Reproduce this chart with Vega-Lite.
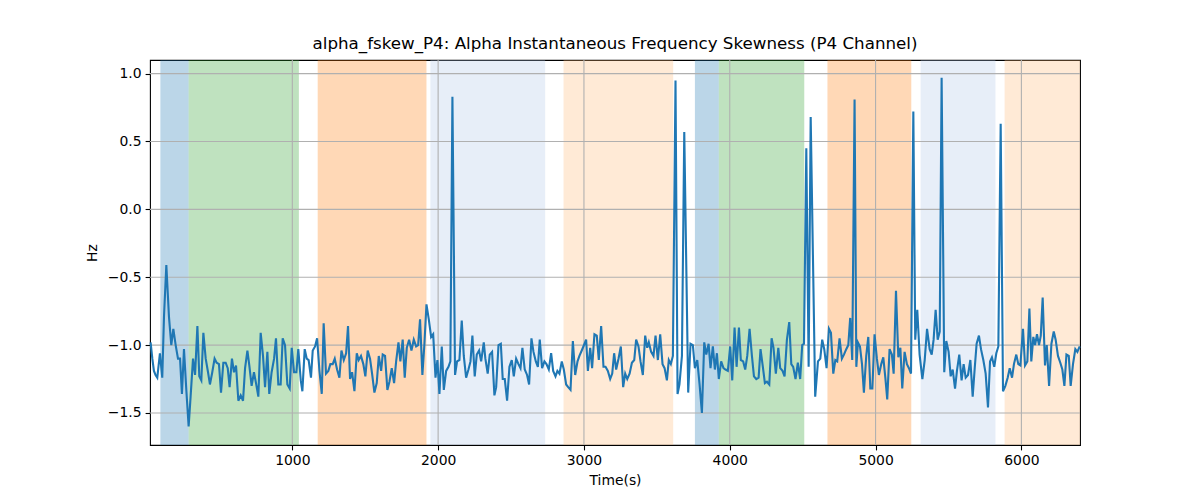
{
  "$schema": "https://vega.github.io/schema/vega-lite/v6.json",
  "width": 930,
  "height": 385,
  "autosize": {"type": "none"},
  "padding": {"left": 150, "top": 60, "right": 120, "bottom": 55},
  "background": "white",
  "title": {
    "text": "alpha_fskew_P4: Alpha Instantaneous Frequency Skewness (P4 Channel)",
    "font": "DejaVu Sans",
    "fontSize": 16.7,
    "fontWeight": "normal",
    "color": "black",
    "anchor": "middle",
    "frame": "group",
    "offset": 7
  },
  "config": {
    "view": {"stroke": "black", "strokeWidth": 1.1},
    "axis": {
      "labelFont": "DejaVu Sans",
      "labelFontSize": 13.9,
      "labelColor": "black",
      "tickColor": "black",
      "tickSize": 4.9,
      "tickWidth": 1.1,
      "labelPadding": 4,
      "domain": false,
      "grid": false,
      "titleFont": "DejaVu Sans",
      "titleFontSize": 13.9,
      "titleFontWeight": "normal",
      "titleColor": "black"
    }
  },
  "datasets": {
    "bands": [
      {"start": 95, "end": 289, "cls": "A"},
      {"start": 289, "end": 1045, "cls": "B"},
      {"start": 1174, "end": 1920, "cls": "C"},
      {"start": 1947, "end": 2734, "cls": "D"},
      {"start": 2860, "end": 3612, "cls": "E"},
      {"start": 3761, "end": 3925, "cls": "A"},
      {"start": 3925, "end": 4511, "cls": "B"},
      {"start": 4670, "end": 5245, "cls": "C"},
      {"start": 5309, "end": 5822, "cls": "D"},
      {"start": 5885, "end": 6402, "cls": "E"}
    ],
    "xgrid": [{"g": 1000}, {"g": 2000}, {"g": 3000}, {"g": 4000}, {"g": 5000}, {"g": 6000}],
    "ygrid": [{"g": -1.5}, {"g": -1.0}, {"g": -0.5}, {"g": 0.0}, {"g": 0.5}, {"g": 1.0}],
    "series": [
      {"t": 28, "v": -0.98}, {"t": 40, "v": -1.10}, {"t": 51, "v": -1.19}, {"t": 62, "v": -1.22}, {"t": 74, "v": -1.24},
      {"t": 92, "v": -1.06}, {"t": 108, "v": -1.24}, {"t": 120, "v": -0.79}, {"t": 136, "v": -0.41}, {"t": 154, "v": -0.79},
      {"t": 170, "v": -1.0}, {"t": 184, "v": -0.88}, {"t": 200, "v": -1.0}, {"t": 216, "v": -1.1}, {"t": 230, "v": -1.1},
      {"t": 243, "v": -1.36}, {"t": 257, "v": -1.03}, {"t": 273, "v": -1.33}, {"t": 289, "v": -1.6}, {"t": 303, "v": -1.37},
      {"t": 319, "v": -1.1}, {"t": 333, "v": -1.22}, {"t": 349, "v": -0.86}, {"t": 362, "v": -1.23}, {"t": 376, "v": -1.26},
      {"t": 390, "v": -0.91}, {"t": 406, "v": -1.1}, {"t": 422, "v": -1.2}, {"t": 435, "v": -1.29}, {"t": 451, "v": -1.2},
      {"t": 467, "v": -1.1}, {"t": 481, "v": -1.13}, {"t": 497, "v": -1.14}, {"t": 511, "v": -1.35}, {"t": 527, "v": -1.13},
      {"t": 543, "v": -1.13}, {"t": 557, "v": -1.17}, {"t": 570, "v": -1.31}, {"t": 586, "v": -1.1}, {"t": 600, "v": -1.2},
      {"t": 614, "v": -1.15}, {"t": 630, "v": -1.41}, {"t": 646, "v": -1.37}, {"t": 662, "v": -1.41}, {"t": 676, "v": -1.17},
      {"t": 692, "v": -1.04}, {"t": 705, "v": -1.15}, {"t": 721, "v": -1.3}, {"t": 737, "v": -1.2}, {"t": 751, "v": -1.28},
      {"t": 767, "v": -1.38}, {"t": 783, "v": -0.91}, {"t": 799, "v": -1.08}, {"t": 813, "v": -1.31}, {"t": 829, "v": -1.05},
      {"t": 842, "v": -1.36}, {"t": 858, "v": -1.2}, {"t": 875, "v": -1.1}, {"t": 888, "v": -0.95}, {"t": 904, "v": -1.29},
      {"t": 920, "v": -1.29}, {"t": 934, "v": -0.95}, {"t": 950, "v": -1.0}, {"t": 966, "v": -1.29}, {"t": 982, "v": -1.32},
      {"t": 996, "v": -1.02}, {"t": 1012, "v": -1.2}, {"t": 1028, "v": -1.2}, {"t": 1041, "v": -1.03}, {"t": 1058, "v": -1.26},
      {"t": 1069, "v": -1.34}, {"t": 1085, "v": -1.03}, {"t": 1099, "v": -1.1}, {"t": 1112, "v": -1.11}, {"t": 1128, "v": -1.24},
      {"t": 1140, "v": -1.04}, {"t": 1156, "v": -1.01}, {"t": 1170, "v": -0.95}, {"t": 1186, "v": -1.19}, {"t": 1202, "v": -1.36},
      {"t": 1215, "v": -0.84}, {"t": 1231, "v": -1.21}, {"t": 1247, "v": -1.19}, {"t": 1261, "v": -1.14}, {"t": 1277, "v": -1.14},
      {"t": 1291, "v": -1.10}, {"t": 1307, "v": -1.18}, {"t": 1323, "v": -1.24}, {"t": 1337, "v": -1.04}, {"t": 1353, "v": -1.11},
      {"t": 1369, "v": -1.06}, {"t": 1382, "v": -0.86}, {"t": 1396, "v": -1.25}, {"t": 1410, "v": -1.20}, {"t": 1426, "v": -1.34},
      {"t": 1442, "v": -1.06}, {"t": 1455, "v": -1.11}, {"t": 1471, "v": -1.08}, {"t": 1487, "v": -1.14}, {"t": 1501, "v": -1.23},
      {"t": 1517, "v": -1.04}, {"t": 1533, "v": -1.10}, {"t": 1547, "v": -1.21}, {"t": 1563, "v": -1.35}, {"t": 1579, "v": -1.28},
      {"t": 1593, "v": -1.08}, {"t": 1609, "v": -1.19}, {"t": 1620, "v": -1.07}, {"t": 1636, "v": -1.08}, {"t": 1652, "v": -1.33},
      {"t": 1666, "v": -1.27}, {"t": 1682, "v": -1.17}, {"t": 1698, "v": -1.28}, {"t": 1712, "v": -1.12}, {"t": 1728, "v": -0.98},
      {"t": 1741, "v": -1.12}, {"t": 1757, "v": -0.96}, {"t": 1771, "v": -1.24}, {"t": 1785, "v": -1.02}, {"t": 1801, "v": -0.96},
      {"t": 1817, "v": -1.04}, {"t": 1833, "v": -0.96}, {"t": 1849, "v": -1.01}, {"t": 1863, "v": -1.0}, {"t": 1876, "v": -0.81},
      {"t": 1892, "v": -1.22}, {"t": 1906, "v": -0.99}, {"t": 1920, "v": -0.70}, {"t": 1936, "v": -0.81}, {"t": 1952, "v": -0.94},
      {"t": 1966, "v": -0.92}, {"t": 1982, "v": -1.24}, {"t": 1995, "v": -1.11}, {"t": 2009, "v": -1.36}, {"t": 2025, "v": -1.01},
      {"t": 2039, "v": -1.33}, {"t": 2055, "v": -1.19}, {"t": 2071, "v": -1.16}, {"t": 2084, "v": -1.12}, {"t": 2098, "v": 0.83},
      {"t": 2116, "v": -1.22}, {"t": 2130, "v": -1.12}, {"t": 2146, "v": -1.11}, {"t": 2162, "v": -0.82}, {"t": 2176, "v": -1.08},
      {"t": 2192, "v": -1.24}, {"t": 2208, "v": -1.18}, {"t": 2222, "v": -1.12}, {"t": 2235, "v": -0.93}, {"t": 2251, "v": -1.23},
      {"t": 2265, "v": -1.07}, {"t": 2281, "v": -1.04}, {"t": 2295, "v": -1.12}, {"t": 2313, "v": -0.98}, {"t": 2324, "v": -1.10},
      {"t": 2340, "v": -1.21}, {"t": 2354, "v": -1.07}, {"t": 2370, "v": -1.05}, {"t": 2386, "v": -1.37}, {"t": 2398, "v": -1.31},
      {"t": 2414, "v": -1.0}, {"t": 2430, "v": -0.99}, {"t": 2443, "v": -1.25}, {"t": 2457, "v": -1.25}, {"t": 2473, "v": -1.41},
      {"t": 2489, "v": -1.16}, {"t": 2505, "v": -1.11}, {"t": 2519, "v": -1.23}, {"t": 2535, "v": -1.10}, {"t": 2551, "v": -1.14},
      {"t": 2565, "v": -1.17}, {"t": 2578, "v": -1.02}, {"t": 2594, "v": -1.18}, {"t": 2610, "v": -1.22}, {"t": 2624, "v": -1.29},
      {"t": 2640, "v": -0.95}, {"t": 2654, "v": -1.05}, {"t": 2670, "v": -1.12}, {"t": 2684, "v": -1.16}, {"t": 2697, "v": -0.96},
      {"t": 2713, "v": -1.17}, {"t": 2729, "v": -1.12}, {"t": 2743, "v": -1.14}, {"t": 2759, "v": -1.18}, {"t": 2775, "v": -1.06},
      {"t": 2789, "v": -1.19}, {"t": 2805, "v": -1.23}, {"t": 2818, "v": -1.19}, {"t": 2832, "v": -1.21}, {"t": 2848, "v": -1.12},
      {"t": 2862, "v": -1.18}, {"t": 2878, "v": -1.29}, {"t": 2892, "v": -1.31}, {"t": 2908, "v": -1.33}, {"t": 2924, "v": -0.97},
      {"t": 2940, "v": -1.22}, {"t": 2956, "v": -1.12}, {"t": 2969, "v": -1.08}, {"t": 2985, "v": -1.04}, {"t": 3004, "v": -0.99},
      {"t": 3015, "v": -0.96}, {"t": 3027, "v": -1.19}, {"t": 3043, "v": -1.02}, {"t": 3056, "v": -1.17}, {"t": 3072, "v": -0.92},
      {"t": 3088, "v": -0.93}, {"t": 3102, "v": -1.11}, {"t": 3118, "v": -0.86}, {"t": 3134, "v": -1.16}, {"t": 3148, "v": -1.16},
      {"t": 3164, "v": -1.19}, {"t": 3180, "v": -1.25}, {"t": 3194, "v": -1.21}, {"t": 3207, "v": -1.06}, {"t": 3221, "v": -1.18},
      {"t": 3237, "v": -1.10}, {"t": 3253, "v": -1.01}, {"t": 3269, "v": -1.31}, {"t": 3283, "v": -1.21}, {"t": 3297, "v": -1.25},
      {"t": 3313, "v": -1.21}, {"t": 3329, "v": -1.13}, {"t": 3345, "v": -1.11}, {"t": 3358, "v": -0.96}, {"t": 3374, "v": -1.01},
      {"t": 3388, "v": -1.12}, {"t": 3404, "v": -1.22}, {"t": 3420, "v": -0.93}, {"t": 3434, "v": -1.02}, {"t": 3445, "v": -0.98},
      {"t": 3461, "v": -1.05}, {"t": 3477, "v": -1.08}, {"t": 3491, "v": -0.93}, {"t": 3507, "v": -1.11}, {"t": 3523, "v": -0.92},
      {"t": 3539, "v": -1.14}, {"t": 3553, "v": -1.17}, {"t": 3569, "v": -1.26}, {"t": 3582, "v": -1.11}, {"t": 3596, "v": -1.14},
      {"t": 3610, "v": -1.08}, {"t": 3628, "v": 0.95}, {"t": 3642, "v": -1.36}, {"t": 3655, "v": -1.29}, {"t": 3672, "v": -1.08},
      {"t": 3688, "v": 0.57}, {"t": 3715, "v": -1.35}, {"t": 3731, "v": -0.99}, {"t": 3747, "v": -1.0}, {"t": 3761, "v": -1.17},
      {"t": 3777, "v": -1.11}, {"t": 3793, "v": -1.29}, {"t": 3809, "v": -1.50}, {"t": 3825, "v": -0.98}, {"t": 3839, "v": -1.07},
      {"t": 3855, "v": -0.99}, {"t": 3868, "v": -1.17}, {"t": 3884, "v": -1.01}, {"t": 3898, "v": -1.18}, {"t": 3912, "v": -1.06},
      {"t": 3925, "v": -1.25}, {"t": 3941, "v": -1.12}, {"t": 3957, "v": -1.17}, {"t": 3971, "v": -1.18}, {"t": 3987, "v": -1.19},
      {"t": 4003, "v": -1.01}, {"t": 4017, "v": -1.26}, {"t": 4033, "v": -0.87}, {"t": 4047, "v": -1.16}, {"t": 4063, "v": -0.87},
      {"t": 4076, "v": -1.11}, {"t": 4092, "v": -1.12}, {"t": 4106, "v": -1.18}, {"t": 4120, "v": -1.08}, {"t": 4136, "v": -0.88},
      {"t": 4152, "v": -1.08}, {"t": 4166, "v": -1.23}, {"t": 4182, "v": -1.25}, {"t": 4198, "v": -1.24}, {"t": 4211, "v": -1.03},
      {"t": 4227, "v": -1.16}, {"t": 4241, "v": -1.28}, {"t": 4255, "v": -1.27}, {"t": 4271, "v": -1.29}, {"t": 4287, "v": -0.95},
      {"t": 4300, "v": -1.02}, {"t": 4316, "v": -1.21}, {"t": 4333, "v": -1.02}, {"t": 4346, "v": -1.17}, {"t": 4362, "v": -1.19},
      {"t": 4376, "v": -1.23}, {"t": 4392, "v": -0.96}, {"t": 4408, "v": -0.83}, {"t": 4422, "v": -1.14}, {"t": 4435, "v": -1.16},
      {"t": 4451, "v": -1.25}, {"t": 4467, "v": -1.13}, {"t": 4483, "v": -1.25}, {"t": 4497, "v": -1.0}, {"t": 4509, "v": -0.99},
      {"t": 4525, "v": 0.45}, {"t": 4541, "v": -1.16}, {"t": 4555, "v": 0.68}, {"t": 4586, "v": -1.38}, {"t": 4605, "v": -1.12},
      {"t": 4621, "v": -1.10}, {"t": 4634, "v": -0.96}, {"t": 4648, "v": -1.03}, {"t": 4664, "v": -1.17}, {"t": 4680, "v": -0.88},
      {"t": 4694, "v": -0.91}, {"t": 4710, "v": -1.21}, {"t": 4724, "v": -1.11}, {"t": 4737, "v": -1.12}, {"t": 4753, "v": -0.95},
      {"t": 4769, "v": -1.10}, {"t": 4783, "v": -1.07}, {"t": 4799, "v": -1.03}, {"t": 4813, "v": -1.0}, {"t": 4826, "v": -0.80},
      {"t": 4840, "v": -1.11}, {"t": 4856, "v": 0.81}, {"t": 4868, "v": -1.16}, {"t": 4879, "v": -0.98}, {"t": 4893, "v": -1.01},
      {"t": 4907, "v": -1.14}, {"t": 4920, "v": -1.35}, {"t": 4936, "v": -1.08}, {"t": 4950, "v": -0.94}, {"t": 4964, "v": -1.32},
      {"t": 4978, "v": -1.32}, {"t": 4993, "v": -0.92}, {"t": 5009, "v": -1.10}, {"t": 5023, "v": -1.22}, {"t": 5039, "v": -1.14},
      {"t": 5053, "v": -1.09}, {"t": 5067, "v": -1.24}, {"t": 5080, "v": -1.40}, {"t": 5096, "v": -1.03}, {"t": 5112, "v": -1.07},
      {"t": 5124, "v": -1.21}, {"t": 5140, "v": -0.60}, {"t": 5156, "v": -1.09}, {"t": 5170, "v": -1.02}, {"t": 5183, "v": -1.32},
      {"t": 5199, "v": -1.05}, {"t": 5215, "v": -1.14}, {"t": 5229, "v": -1.17}, {"t": 5243, "v": -1.21}, {"t": 5259, "v": 0.72},
      {"t": 5272, "v": -0.96}, {"t": 5286, "v": -0.74}, {"t": 5302, "v": -1.07}, {"t": 5321, "v": -1.25}, {"t": 5337, "v": -1.11},
      {"t": 5353, "v": -0.88}, {"t": 5371, "v": -1.03}, {"t": 5385, "v": -1.07}, {"t": 5398, "v": -0.96}, {"t": 5412, "v": -0.74},
      {"t": 5426, "v": -0.96}, {"t": 5440, "v": -0.90}, {"t": 5453, "v": 0.97}, {"t": 5471, "v": -1.20}, {"t": 5485, "v": -0.97},
      {"t": 5501, "v": -1.05}, {"t": 5515, "v": -1.23}, {"t": 5529, "v": -1.18}, {"t": 5545, "v": -1.32}, {"t": 5558, "v": -1.19},
      {"t": 5574, "v": -1.07}, {"t": 5590, "v": -1.26}, {"t": 5604, "v": -1.14}, {"t": 5618, "v": -1.24}, {"t": 5634, "v": -1.22},
      {"t": 5650, "v": -1.11}, {"t": 5666, "v": -1.38}, {"t": 5680, "v": -1.17}, {"t": 5693, "v": -0.99}, {"t": 5709, "v": -0.93},
      {"t": 5723, "v": -1.03}, {"t": 5739, "v": -1.11}, {"t": 5755, "v": -1.21}, {"t": 5771, "v": -1.46}, {"t": 5785, "v": -1.12},
      {"t": 5798, "v": -1.09}, {"t": 5814, "v": -1.16}, {"t": 5828, "v": -1.06}, {"t": 5842, "v": -1.01}, {"t": 5858, "v": 0.63},
      {"t": 5874, "v": -1.34}, {"t": 5890, "v": -1.30}, {"t": 5906, "v": -1.24}, {"t": 5920, "v": -1.17}, {"t": 5936, "v": -1.24},
      {"t": 5949, "v": -1.14}, {"t": 5965, "v": -1.07}, {"t": 5979, "v": -1.14}, {"t": 5993, "v": -1.15}, {"t": 6011, "v": -0.88},
      {"t": 6025, "v": -1.15}, {"t": 6041, "v": -1.12}, {"t": 6055, "v": -0.73}, {"t": 6068, "v": -1.12}, {"t": 6082, "v": -0.94},
      {"t": 6094, "v": -1.0}, {"t": 6107, "v": -0.92}, {"t": 6121, "v": -1.0}, {"t": 6133, "v": -0.93}, {"t": 6146, "v": -0.65},
      {"t": 6162, "v": -1.15}, {"t": 6174, "v": -1.0}, {"t": 6190, "v": -1.30}, {"t": 6206, "v": -0.99}, {"t": 6222, "v": -0.90},
      {"t": 6235, "v": -0.96}, {"t": 6251, "v": -1.08}, {"t": 6267, "v": -1.13}, {"t": 6281, "v": -1.18}, {"t": 6295, "v": -1.30},
      {"t": 6309, "v": -1.07}, {"t": 6325, "v": -1.08}, {"t": 6338, "v": -1.30}, {"t": 6354, "v": -1.14}, {"t": 6370, "v": -1.03},
      {"t": 6384, "v": -1.05}, {"t": 6400, "v": -1.01}
    ]
  },
  "layer": [
    {
      "data": {"name": "bands"},
      "mark": {"type": "rect", "opacity": 0.3},
      "encoding": {
        "x": {
          "field": "start", "type": "quantitative",
          "scale": {"domain": [24, 6402], "nice": false, "zero": false},
          "axis": {"title": "Time(s)", "values": [1000, 2000, 3000, 4000, 5000, 6000], "format": "d", "titlePadding": 6}
        },
        "x2": {"field": "end"},
        "color": {
          "field": "cls", "type": "nominal",
          "scale": {"domain": ["A", "B", "C", "D", "E"], "range": ["#1f77b4", "#2ca02c", "#ff7f0e", "#aec7e8", "#ffbb78"]},
          "legend": null
        }
      }
    },
    {
      "data": {"name": "xgrid"},
      "mark": {"type": "rule", "color": "#b0b0b0", "strokeWidth": 1.1},
      "encoding": {
        "x": {"field": "g", "type": "quantitative", "title": "Time(s)"}
      }
    },
    {
      "data": {"name": "ygrid"},
      "mark": {"type": "rule", "color": "#b0b0b0", "strokeWidth": 1.1},
      "encoding": {
        "y": {"field": "g", "type": "quantitative", "title": "Hz"}
      }
    },
    {
      "data": {"name": "series"},
      "mark": {"type": "line", "color": "#1f77b4", "strokeWidth": 2.1},
      "encoding": {
        "x": {"field": "t", "type": "quantitative", "title": "Time(s)"},
        "y": {
          "field": "v", "type": "quantitative",
          "scale": {"domain": [-1.736, 1.1003], "nice": false, "zero": false},
          "axis": {"title": "Hz", "values": [-1.5, -1.0, -0.5, 0.0, 0.5, 1.0], "format": ".1f", "titlePadding": 8}
        }
      }
    }
  ]
}
